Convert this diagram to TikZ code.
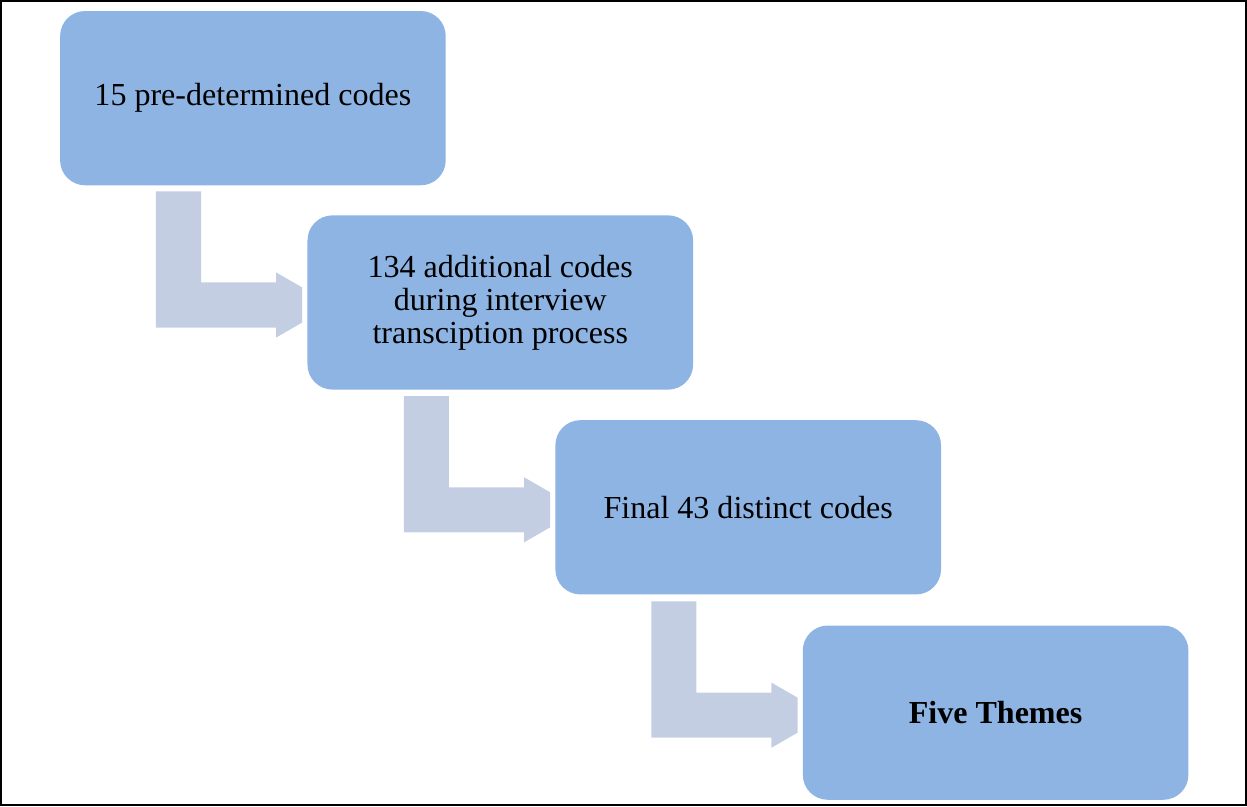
\documentclass[tikz,border=0pt]{standalone}
\usepackage{fontspec}
\setmainfont{Liberation Serif}
\usetikzlibrary{calc}
\definecolor{boxblue}{HTML}{8EB4E3}
\definecolor{flowgray}{HTML}{C3CEE3}
\tikzset{
  codebox/.style={fill=boxblue, rounded corners=18.75pt, minimum width=385*0.75pt,
    minimum height=174*0.75pt, align=center, font=\fontsize{24}{24.75}\selectfont},
  flow/.style={fill=flowgray}
}

\begin{document}
\begin{tikzpicture}[x=0.75pt,y=-0.75pt]
                \draw[line width=1.5pt] (2,2) rectangle (1245,805);
                \node[codebox] (c1) at (253.5,99) {15 pre-determined codes};
                \node[codebox] (c2) at (500.5,303) {134 additional codes\\during interview\\transciption process};
                \node[codebox] (c3) at (748,507.5) {Final 43 distinct codes};
                \node[codebox] (c4) at (995,712.5) {\textbf{Five Themes}};
                % bent arrows between the steps
                \foreach \b in {c2,c3,c4}
                  \fill[flow] ($(\b.west)+(-151,-111)$) -- ($(\b.west)+(-106,-111)$)
                    -- ($(\b.west)+(-106,-20)$) -- ($(\b.west)+(-31,-20)$)
                    -- ($(\b.west)+(-31,-30)$) -- ($(\b.west)+(-5,-15)$)
                    -- ($(\b.west)+(-5,20)$) -- ($(\b.west)+(-31,35)$)
                    -- ($(\b.west)+(-31,25)$) -- ($(\b.west)+(-151,25)$) -- cycle;
            \end{tikzpicture}
\end{document}
